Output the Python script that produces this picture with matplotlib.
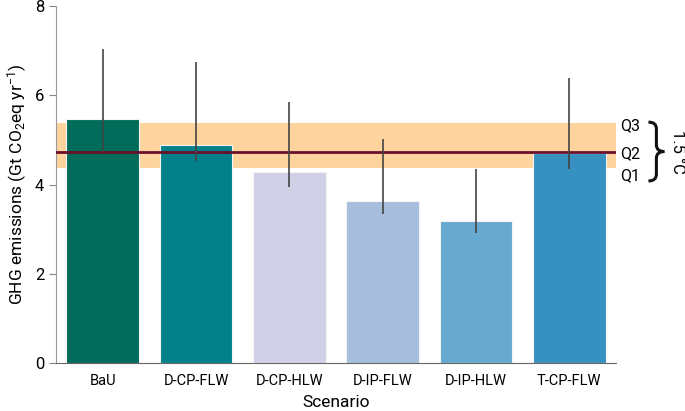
import numpy as np
import matplotlib.pyplot as plt
from matplotlib.path import Path
from matplotlib.patches import PathPatch

plt.rcParams['font.family'] = ['Roboto', 'DejaVu Sans']
plt.rcParams['mathtext.default'] = 'regular'

scenarios = ['BaU', 'D-CP-FLW', 'D-CP-HLW', 'D-IP-FLW', 'D-IP-HLW', 'T-CP-FLW']
emissions = [5.47, 4.89, 4.27, 3.63, 3.18, 4.71]
err_low = [4.74, 4.53, 3.94, 3.34, 2.92, 4.34]
err_high = [7.04, 6.74, 5.85, 5.02, 4.34, 6.39]
colors = ['#016c59', '#02818a', '#d0d1e6', '#a6bddb', '#67a9cf', '#3690c0']

# 1.5 C target quartiles
q1, q2, q3 = 4.38, 4.74, 5.39

fig = plt.figure(figsize=(6.85, 4.11), dpi=100)
ax = fig.add_axes([0.082, 0.117, 0.817, 0.868])

x = np.arange(len(scenarios))
ax.axhspan(q1, q3, color='#fdd49e', zorder=0, lw=0)
ax.bar(x, emissions, width=0.78, color=colors, edgecolor='#f4f4f4', linewidth=0.8, zorder=2)
ax.axhline(q2, color='#6b0f2a', lw=2, zorder=3)
ax.vlines(x, err_low, err_high, color='#444444', lw=1.2, zorder=4)

ax.set_xlim(-0.5, 5.5)
ax.set_ylim(0, 8)
ax.set_yticks([0, 2, 4, 6, 8])
ax.set_xticks(x)
ax.set_xticklabels(scenarios, fontsize=10.5)
ax.tick_params(axis='x', length=0, pad=8)
ax.tick_params(axis='y', labelsize=12, color='#888888', length=5, direction='out')
ax.spines['top'].set_visible(False)
ax.spines['right'].set_visible(False)
ax.spines['left'].set_color('#999999')
ax.spines['bottom'].set_color('#666666')
ax.set_ylabel('GHG emissions (Gt CO$_2$eq yr$^{-1}$)', fontsize=12.5)
ax.set_xlabel('Scenario', fontsize=12.5, labelpad=5)

for lab, yv in [('Q3', 5.32), ('Q2', 4.69), ('Q1', 4.19)]:
    ax.text(5.55, yv, lab, fontsize=11.5, va='center', ha='left', clip_on=False)

# curly brace next to the quartile labels
bx, bm, bt = 5.85, 5.935, 6.02   # left end, spine, tip
h = 0.66
yc = q2
verts = [(bx, yc + h), (bm, yc + h), (bm, yc + h - 0.15),
         (bm, yc + 0.15),
         (bm, yc), (bt, yc),
         (bm, yc), (bm, yc - 0.15),
         (bm, yc - h + 0.15),
         (bm, yc - h), (bx, yc - h)]
codes = [Path.MOVETO, Path.CURVE3, Path.CURVE3, Path.LINETO,
         Path.CURVE3, Path.CURVE3, Path.CURVE3, Path.CURVE3,
         Path.LINETO, Path.CURVE3, Path.CURVE3]
ax.add_patch(PathPatch(Path(verts, codes), fill=False, lw=2.2, color='#111111',
                       clip_on=False, capstyle='butt'))
ax.text(6.16, 4.74, '1.5 °C', fontsize=12, va='center', ha='center', rotation=-90, clip_on=False)

fig.savefig('out.png', dpi=100)
